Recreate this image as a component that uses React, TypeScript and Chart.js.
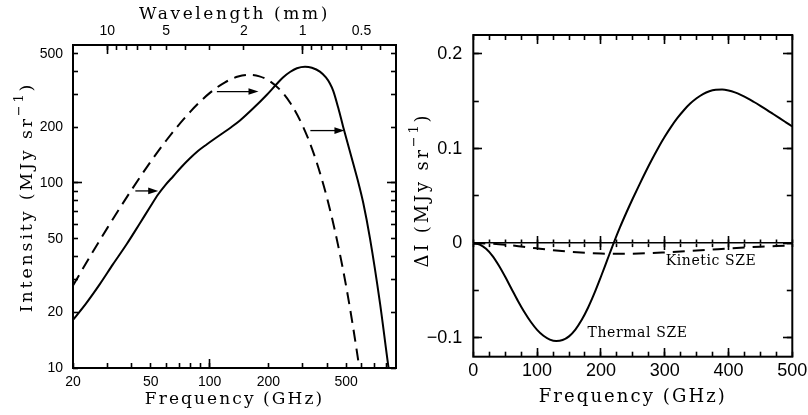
import React, { useEffect, useRef } from 'react';
import { Chart, registerables } from 'chart.js';

Chart.register(...registerables);

// ---------- Left panel: CMB spectrum, undistorted (dashed) and SZE-distorted (solid) ----------
const cmbFreq = [20, 25, 30, 40, 50, 60, 80, 100, 120, 140, 160, 180, 200, 230, 260, 300, 340, 384, 420, 460, 500, 540, 586, 600];
const cmbIntensity = [27.9, 41.7, 57.2, 92.3, 130.5, 169.7, 244, 306, 350, 376, 384, 377, 359, 318, 269, 203, 146, 96.6, 67, 43.5, 27.7, 17.2, 9.8, 8.2];

const szFreq = [20, 23.3, 27.5, 32, 37.7, 44.1, 49.6, 54.5, 59.1, 65.2, 71.4, 79.4, 87.2, 96.6, 106.6, 117.6, 129.5, 143.1, 167.4, 196, 220.5, 237.5, 258, 280, 308, 334, 367, 394, 413, 430, 456, 483, 544, 577, 612, 662, 745, 822, 848];
const szIntensity = [18.2, 22.3, 28.5, 36.3, 46.8, 60.8, 74.2, 86.7, 96.9, 108.8, 121.3, 136, 148.9, 161.5, 174, 187, 200.8, 217.7, 253.4, 299, 342.8, 371.8, 398, 417, 425, 419.5, 400, 372, 345, 314, 254, 201, 127, 101, 78, 50.4, 22.5, 10.25, 8.2];

// Arrows marking the shift of photons to higher frequency
const arrowFromFreq = [41.7, 109, 328];
const arrowToFreq = [54.6, 178, 490];
const arrowIntensity = [90.6, 312, 192];

// Left panel ticks
const freqLabelTicks = [20, 50, 100, 200, 500];
const freqTickMarks = [30, 40, 50, 60, 70, 80, 90, 100, 200, 300, 400, 500, 600, 700, 800];
const freqMajorMarks = [100];
const wavelengthLabelTicks = [10, 5, 2, 1, 0.5];
const wavelengthTickMarks = [10, 9, 8, 7, 6, 5, 4, 3, 2, 1, 0.9, 0.8, 0.7, 0.6, 0.5, 0.4];
const wavelengthMajorMarks = [10, 1];
const intensityLabelTicks = [10, 20, 50, 100, 200, 500];
const intensityTickMarks = [10, 20, 30, 40, 50, 60, 70, 80, 90, 100, 200, 300, 400, 500];
const intensityMajorMarks = [100];

// ---------- Right panel: thermal and kinetic SZE intensity change ----------
const thermalFreq = [0, 10, 20, 30, 40, 50, 60, 70, 80, 90, 100, 110, 120, 130, 140, 150, 160, 170, 180, 190, 200, 210, 220, 230, 240, 250, 260, 270, 280, 290, 300, 310, 320, 330, 340, 350, 360, 370, 380, 390, 400, 410, 420, 430, 440, 450, 460, 470, 480, 490, 500];
const thermalDeltaI = [0, -0.0015, -0.006, -0.0135, -0.0237, -0.0356, -0.0484, -0.0611, -0.0728, -0.0831, -0.0916, -0.0979, -0.1019, -0.1035, -0.1024, -0.0985, -0.0913, -0.081, -0.068, -0.0526, -0.0355, -0.0177, 0.0001, 0.0169, 0.0324, 0.0472, 0.0614, 0.0752, 0.0884, 0.1009, 0.1124, 0.1229, 0.1323, 0.1405, 0.1475, 0.1531, 0.1575, 0.1605, 0.1621, 0.1624, 0.1614, 0.1594, 0.1565, 0.1531, 0.1492, 0.1451, 0.1409, 0.1365, 0.1321, 0.1277, 0.1233];

const kineticFreq = [0, 25, 50, 75, 100, 125, 150, 175, 200, 225, 250, 275, 300, 325, 350, 375, 400, 425, 450, 475, 500];
const kineticDeltaI = [0, -0.0005, -0.0017, -0.0035, -0.0055, -0.0074, -0.009, -0.0102, -0.011, -0.0113, -0.0111, -0.0106, -0.0098, -0.0089, -0.0078, -0.0067, -0.0056, -0.0046, -0.0037, -0.003, -0.0023];

const curveLabels = ['Kinetic SZE', 'Thermal SZE'];
const curveLabelFreq = [372.6, 257.4];
const curveLabelDeltaI = [-0.0197, -0.0952];

const deltaFreqLabelStep = 100;
const deltaFreqTickMarks = [0, 25, 50, 75, 100, 125, 150, 175, 200, 225, 250, 275, 300, 325, 350, 375, 400, 425, 450, 475, 500];
const deltaFreqMajorMarks = [100, 200, 300, 400];
const deltaILabelTicks = [-0.1, 0, 0.1, 0.2];
const deltaITickMarks = [-0.1, -0.05, 0, 0.05, 0.1, 0.15, 0.2];

const C_MM_GHZ = 299.792458; // wavelength (mm) * frequency (GHz)

const INK = '#000';
const TICK_FAMILY = '"Liberation Sans", Arial, sans-serif';
const TITLE_FAMILY = '"DejaVu Serif", serif';

type Part = { text: string; sup?: boolean };

function drawTitle(ctx: CanvasRenderingContext2D, parts: Part[], cx: number, cy: number, size: number, spacing: number, rotate = false) {
  ctx.save();
  ctx.fillStyle = INK;
  ctx.textBaseline = 'middle';
  ctx.textAlign = 'left';
  (ctx as any).letterSpacing = spacing + 'px';
  const supSize = Math.round(size * 0.72);
  const widths = parts.map((p) => {
    ctx.font = `${p.sup ? supSize : size}px ${TITLE_FAMILY}`;
    return ctx.measureText(p.text).width;
  });
  const total = widths.reduce((a, b) => a + b, 0);
  ctx.translate(cx, cy);
  if (rotate) ctx.rotate(-Math.PI / 2);
  let x = -total / 2;
  parts.forEach((p, i) => {
    ctx.font = `${p.sup ? supSize : size}px ${TITLE_FAMILY}`;
    ctx.fillText(p.text, x, p.sup ? -size * 0.45 : 0);
    x += widths[i];
  });
  ctx.restore();
}

const spectrumDecor = {
  id: 'spectrumDecor',
  afterDraw(chart: any) {
    const { ctx, chartArea: a, scales } = chart;
    const sx = scales.x;
    const sy = scales.y;
    ctx.save();
    ctx.fillStyle = INK;
    ctx.strokeStyle = INK;

    // arrows
    ctx.lineWidth = 1.3;
    arrowFromFreq.forEach((f, i) => {
      const x1 = sx.getPixelForValue(f);
      const x2 = sx.getPixelForValue(arrowToFreq[i]);
      const y = sy.getPixelForValue(arrowIntensity[i]);
      ctx.beginPath();
      ctx.moveTo(x1, y);
      ctx.lineTo(x2 - 6, y);
      ctx.stroke();
      ctx.beginPath();
      ctx.moveTo(x2, y);
      ctx.lineTo(x2 - 10, y - 3.3);
      ctx.lineTo(x2 - 10, y + 3.3);
      ctx.closePath();
      ctx.fill();
    });

    // frame
    ctx.lineWidth = 2;
    ctx.strokeRect(a.left, a.top, a.right - a.left, a.bottom - a.top);
    ctx.restore();

    const cx = (a.left + a.right) / 2;
    drawTitle(ctx, [{ text: 'Wavelength (mm)' }], cx, 15, 17, 2.6);
    drawTitle(ctx, [{ text: 'Frequency (GHz)' }], cx, 400, 17, 2.1);
    drawTitle(ctx, [{ text: 'Intensity (MJy sr' }, { text: '\u22121', sup: true }, { text: ')' }], 27, 197, 17.5, 2.8, true);
  },
};

const deltaDecor = {
  id: 'deltaDecor',
  afterDraw(chart: any) {
    const { ctx, chartArea: a, scales } = chart;
    const sx = scales.x;
    const sy = scales.y;
    ctx.save();
    ctx.fillStyle = INK;
    ctx.strokeStyle = INK;
    ctx.lineWidth = 2;
    ctx.strokeRect(a.left, a.top, a.right - a.left, a.bottom - a.top);

    // curve names
    ctx.font = `14px ${TITLE_FAMILY}`;
    ctx.textAlign = 'center';
    ctx.textBaseline = 'middle';
    (ctx as any).letterSpacing = '0.6px';
    curveLabels.forEach((t, i) => {
      ctx.fillText(t, sx.getPixelForValue(curveLabelFreq[i]), sy.getPixelForValue(curveLabelDeltaI[i]));
    });
    ctx.restore();

    drawTitle(ctx, [{ text: 'Frequency (GHz)' }], (a.left + a.right) / 2, 397, 18, 2.1);
    drawTitle(ctx, [{ text: '\u0394I (MJy sr' }, { text: '\u22121', sup: true }, { text: ')' }], 19, 190, 18, 2.8, true);
  },
};

const numLabel = (v: number) => {
  const s = String(parseFloat(Math.abs(v).toPrecision(4)));
  return v < 0 ? '\u2212' + s : s;
};
const isIn = (list: number[], v: number) => list.some((u) => Math.abs(u - v) < 1e-6 * Math.max(1, Math.abs(u)));

function fixSize(width: number | null, height: number | null) {
  return (s: any) => {
    if (width !== null) s.width = width;
    if (height !== null) s.height = height;
    s.paddingLeft = 0;
    s.paddingRight = 0;
    s.paddingTop = 0;
    s.paddingBottom = 0;
  };
}

// tick marks drawn by the scale itself; the sign of len sets the direction
const tickGrid = (len: number) => ({
  display: true,
  drawOnChartArea: false,
  drawTicks: true,
  tickLength: len,
  tickWidth: 1.6,
  tickColor: INK,
  color: INK,
});

// an unlabeled axis pinned to a value of the other axis, used only for its tick marks
function markAxis(base: any, axis: 'x' | 'y', position: any, values: number[], len: number, borderWidth = 0) {
  return {
    ...base,
    axis,
    position,
    grid: tickGrid(len),
    border: borderWidth ? { display: true, color: INK, width: borderWidth } : { display: false },
    ticks: { display: false },
    afterBuildTicks: (s: any) => {
      s.ticks = values.map((value) => ({ value }));
    },
    afterFit: axis === 'x' ? fixSize(null, 0) : fixSize(0, null),
  };
}

function spectrumConfig(): any {
  const tickFont = { family: TICK_FAMILY, size: 14 };
  const logFreq = { type: 'logarithmic', min: 20, max: 900 };
  const logInt = { type: 'logarithmic', min: 10, max: 557 };
  const wavelengthFreqs = (list: number[]) => list.map((l) => C_MM_GHZ / l).sort((p, q) => p - q);
  return {
    type: 'line',
    data: {
      datasets: [
        {
          xAxisID: 'x',
          yAxisID: 'y',
          data: cmbFreq.map((x, i) => ({ x, y: cmbIntensity[i] })),
          borderColor: INK,
          borderWidth: 2,
          borderDash: [12, 7],
          pointRadius: 0,
          cubicInterpolationMode: 'monotone',
          fill: false,
        },
        {
          xAxisID: 'x',
          yAxisID: 'y',
          data: szFreq.map((x, i) => ({ x, y: szIntensity[i] })),
          borderColor: INK,
          borderWidth: 2,
          pointRadius: 0,
          cubicInterpolationMode: 'monotone',
          fill: false,
        },
      ],
    },
    options: {
      animation: false,
      responsive: false,
      events: [],
      layout: { padding: 0 },
      plugins: { legend: { display: false }, tooltip: { enabled: false }, title: { display: false } },
      scales: {
        x: {
          ...logFreq,
          position: 'bottom',
          grid: tickGrid(-5),
          border: { display: false },
          ticks: {
            autoSkip: false, maxRotation: 0, minRotation: 0, padding: 10.5, color: INK, font: tickFont,
            callback: (v: number) => (isIn(freqLabelTicks, v) ? numLabel(v) : ''),
          },
          afterBuildTicks: (s: any) => {
            s.ticks = Array.from(new Set([...freqLabelTicks, ...freqTickMarks])).sort((p, q) => p - q).map((value) => ({ value }));
          },
          afterFit: fixSize(null, 47),
        },
        xTop: {
          ...logFreq,
          position: 'top',
          grid: tickGrid(-5),
          border: { display: false },
          ticks: {
            autoSkip: false, maxRotation: 0, minRotation: 0, padding: 10, color: INK, font: tickFont,
            callback: (v: number) => {
              const l = C_MM_GHZ / v;
              return isIn(wavelengthLabelTicks, l) ? numLabel(l) : '';
            },
          },
          afterBuildTicks: (s: any) => {
            s.ticks = wavelengthFreqs(wavelengthTickMarks).map((value) => ({ value }));
          },
          afterFit: fixSize(null, 45),
        },
        y: {
          ...logInt,
          position: 'left',
          grid: tickGrid(-5),
          border: { display: false },
          ticks: {
            autoSkip: false, padding: 15, color: INK, font: tickFont,
            callback: (v: number) => (isIn(intensityLabelTicks, v) ? numLabel(v) : ''),
          },
          afterBuildTicks: (s: any) => {
            s.ticks = intensityTickMarks.map((value) => ({ value }));
          },
          afterFit: fixSize(73, null),
        },
        yRight: {
          ...logInt,
          position: 'right',
          grid: tickGrid(-5),
          border: { display: false },
          ticks: { display: false },
          afterBuildTicks: (s: any) => {
            s.ticks = intensityTickMarks.map((value) => ({ value }));
          },
          afterFit: fixSize(8, null),
        },
        // longer decade ticks
        xMajorBottom: markAxis(logFreq, 'x', { y: 10 }, freqMajorMarks, -9),
        xMajorTop: markAxis(logFreq, 'x', { y: 557 }, wavelengthFreqs(wavelengthMajorMarks), 9),
        yMajorLeft: markAxis(logInt, 'y', { x: 20 }, intensityMajorMarks, -9),
        yMajorRight: markAxis(logInt, 'y', { x: 900 }, intensityMajorMarks, 9),
      },
    },
    plugins: [spectrumDecor],
  };
}

function deltaConfig(): any {
  const tickFont = { family: TICK_FAMILY, size: 18 };
  const linFreq = { type: 'linear', min: 0, max: 500 };
  const linDelta = { type: 'linear', min: -0.12, max: 0.22 };
  const freqMarks = (s: any) => {
    s.ticks = deltaFreqTickMarks.map((value) => ({ value }));
  };
  const deltaMarks = (s: any) => {
    s.ticks = deltaITickMarks.map((value) => ({ value }));
  };
  return {
    type: 'line',
    data: {
      datasets: [
        {
          xAxisID: 'x',
          yAxisID: 'y',
          data: kineticFreq.map((x, i) => ({ x, y: kineticDeltaI[i] })),
          borderColor: INK,
          borderWidth: 2,
          borderDash: [12, 8],
          pointRadius: 0,
          cubicInterpolationMode: 'monotone',
          fill: false,
        },
        {
          xAxisID: 'x',
          yAxisID: 'y',
          data: thermalFreq.map((x, i) => ({ x, y: thermalDeltaI[i] })),
          borderColor: INK,
          borderWidth: 2,
          pointRadius: 0,
          cubicInterpolationMode: 'monotone',
          fill: false,
        },
      ],
    },
    options: {
      animation: false,
      responsive: false,
      events: [],
      layout: { padding: 0 },
      plugins: { legend: { display: false }, tooltip: { enabled: false }, title: { display: false } },
      scales: {
        x: {
          ...linFreq,
          position: 'bottom',
          grid: tickGrid(-5),
          border: { display: false },
          ticks: {
            autoSkip: false, maxRotation: 0, minRotation: 0, padding: 9, color: INK, font: tickFont,
            callback: (v: number) => (Math.abs(v % deltaFreqLabelStep) < 1e-9 ? numLabel(v) : ''),
          },
          afterBuildTicks: freqMarks,
          afterFit: fixSize(null, 58.3),
        },
        xTop: {
          ...linFreq,
          position: 'top',
          grid: tickGrid(-5),
          border: { display: false },
          ticks: { display: false },
          afterBuildTicks: freqMarks,
          afterFit: fixSize(null, 35),
        },
        y: {
          ...linDelta,
          position: 'left',
          grid: tickGrid(-5.5),
          border: { display: false },
          ticks: {
            autoSkip: false, padding: 16.5, color: INK, font: tickFont,
            callback: (v: number) => (isIn(deltaILabelTicks, v) ? numLabel(v) : ''),
          },
          afterBuildTicks: deltaMarks,
          afterFit: fixSize(69.3, null),
        },
        yRight: {
          ...linDelta,
          position: 'right',
          grid: tickGrid(-5.5),
          border: { display: false },
          ticks: { display: false },
          afterBuildTicks: deltaMarks,
          afterFit: fixSize(15.7, null),
        },
        // zero line with ticks crossing it
        xZeroDown: markAxis(linFreq, 'x', { y: 0 }, deltaFreqTickMarks, 3.5, 1.6),
        xZeroUp: markAxis(linFreq, 'x', { y: 0 }, deltaFreqTickMarks, -3.5),
        xZeroMajorDown: markAxis(linFreq, 'x', { y: 0 }, deltaFreqMajorMarks, 7),
        xZeroMajorUp: markAxis(linFreq, 'x', { y: 0 }, deltaFreqMajorMarks, -7),
        // longer major ticks on the frame
        xMajorBottom: markAxis(linFreq, 'x', { y: -0.12 }, deltaFreqMajorMarks, -9),
        xMajorTop: markAxis(linFreq, 'x', { y: 0.22 }, deltaFreqMajorMarks, 9),
        yMajorLeft: markAxis(linDelta, 'y', { x: 0 }, deltaILabelTicks, -9),
        yMajorRight: markAxis(linDelta, 'y', { x: 500 }, deltaILabelTicks, 9),
      },
    },
    plugins: [deltaDecor],
  };
}

function ChartCanvas({ config, left }: { config: () => any; left: number }) {
  const ref = useRef<HTMLCanvasElement | null>(null);
  useEffect(() => {
    if (!ref.current) return;
    const chart = new Chart(ref.current, config());
    return () => chart.destroy();
  }, [config]);
  return (
    <canvas
      ref={ref}
      width={404}
      height={415}
      style={{ position: 'absolute', left, top: 0, width: 404, height: 415 }}
    />
  );
}

export default function App() {
  return (
    <div style={{ position: 'absolute', left: 0, top: 0, width: 808, height: 415, background: '#fff', overflow: 'hidden' }}>
      <ChartCanvas config={spectrumConfig} left={0} />
      <ChartCanvas config={deltaConfig} left={404} />
    </div>
  );
}
